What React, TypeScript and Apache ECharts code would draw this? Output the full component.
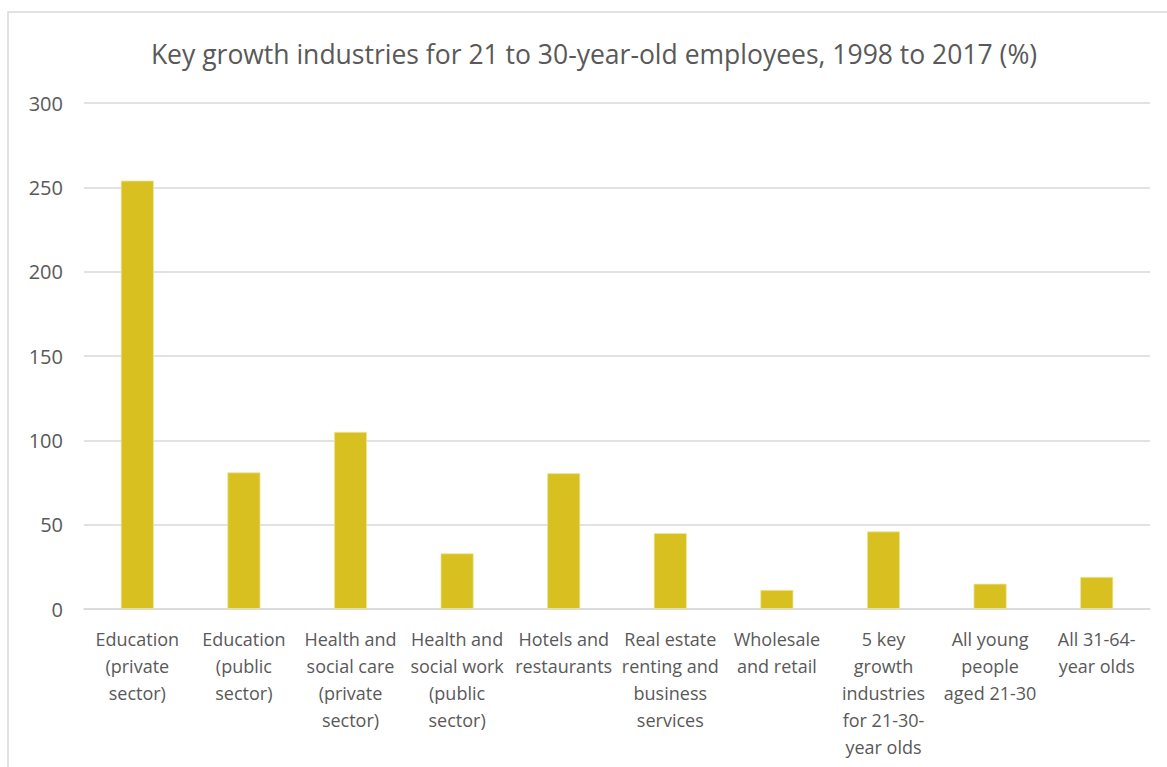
import React, { useEffect, useRef } from "react";
import * as echarts from "echarts";

const title = "Key growth industries for 21 to 30-year-old employees, 1998 to 2017 (%)";
const categories = [
  "Education\n(private\nsector)",
  "Education\n(public\nsector)",
  "Health and\nsocial care\n(private\nsector)",
  "Health and\nsocial work\n(public\nsector)",
  "Hotels and\nrestaurants",
  "Real estate\nrenting and\nbusiness\nservices",
  "Wholesale\nand retail",
  "5 key\ngrowth\nindustries\nfor 21-30-\nyear olds",
  "All young\npeople\naged 21-30",
  "All 31-64-\nyear olds",
];
const values = [254, 81, 105, 33, 80.5, 45, 11.3, 46, 15, 19];
const yTicks = { min: 0, max: 300, interval: 50 };

const FONT = "'Open Sans', 'Noto Sans', sans-serif";

export default function App() {
  const ref = useRef<HTMLDivElement>(null);
  useEffect(() => {
    if (!ref.current) return;
    const chart = echarts.init(ref.current, undefined, { renderer: "svg" });
    chart.setOption({
      animation: false,
      backgroundColor: "#ffffff",
      graphic: [
        {
          type: "rect",
          shape: { x: 8, y: 12, width: 1300, height: 900 },
          style: { fill: "none", stroke: "#D9D9D9", lineWidth: 1.5 },
          silent: true,
          z: -1,
        },
        {
          type: "text",
          x: 594,
          y: 54,
          style: {
            text: title,
            fill: "#595959",
            font: `26.5px ${FONT}`,
            textAlign: "center",
            textVerticalAlign: "middle",
          },
        },
      ],
      grid: { left: 84, right: 17, top: 103, bottom: 158, containLabel: false },
      xAxis: {
        type: "category",
        data: categories,
        axisLine: { show: true, lineStyle: { color: "#D9D9D9", width: 1.5 } },
        axisTick: { show: false },
        axisLabel: {
          interval: 0,
          color: "#595959",
          fontFamily: FONT,
          fontSize: 18,
          lineHeight: 27,
          margin: 16,
          align: "center",
        },
      },
      yAxis: {
        type: "value",
        min: yTicks.min,
        max: yTicks.max,
        interval: yTicks.interval,
        axisLine: { show: false },
        axisTick: { show: false },
        axisLabel: { color: "#595959", fontFamily: FONT, fontSize: 20, margin: 21 },
        splitLine: { lineStyle: { color: "#D9D9D9", width: 1.5 } },
      },
      series: [
        {
          type: "bar",
          data: values,
          barWidth: "31%",
          itemStyle: { color: "#D8C021", borderColor: "#EFE3A0", borderWidth: 0.8 },
        },
      ],
    });
    return () => chart.dispose();
  }, []);
  return (
    <div
      ref={ref}
      style={{ position: "fixed", left: 0, top: 0, width: 1167, height: 767 }}
    />
  );
}
